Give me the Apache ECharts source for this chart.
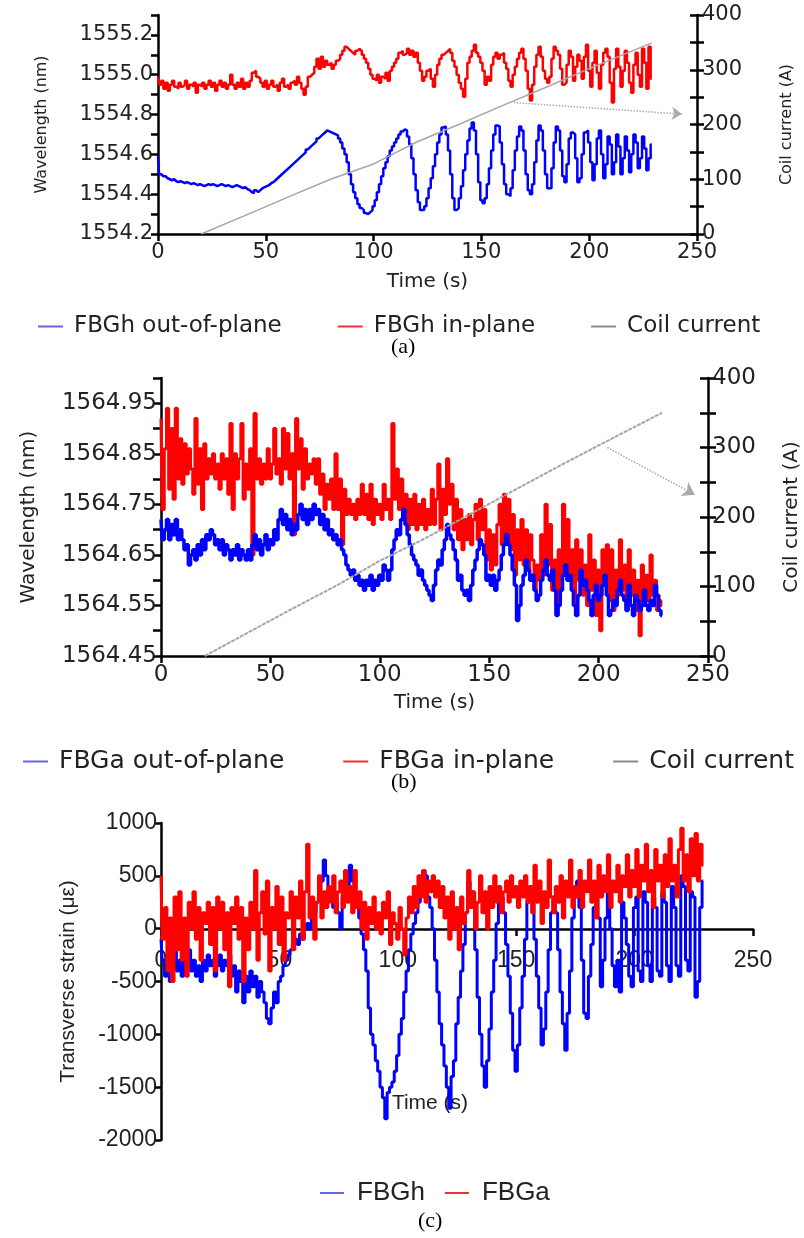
<!DOCTYPE html>
<html><head><meta charset="utf-8">
<script src="https://cdn.jsdelivr.net/npm/echarts@6/dist/echarts.min.js"></script>
<style>html,body{margin:0;padding:0;background:#fff}#c{width:804px;height:1238px}</style>
</head><body><div id="c"></div>
<script>
// ---------- data (time step 1 s, first sample at t = 0) ----------
const sampleStep = 1;
const timeTicks = [0, 50, 100, 150, 200, 250];

// (a) FBGh wavelengths (nm)
const aOutOfPlane = [
 1554.59,1554.50,1554.49,1554.49,1554.48,1554.475,1554.47,1554.475,1554.465,1554.46,
 1554.465,1554.46,1554.455,1554.46,1554.455,1554.45,1554.455,1554.45,1554.445,1554.45,
 1554.445,1554.44,1554.445,1554.45,1554.445,1554.45,1554.445,1554.44,1554.445,1554.45,
 1554.445,1554.44,1554.445,1554.44,1554.435,1554.44,1554.445,1554.44,1554.435,1554.43,
 1554.435,1554.425,1554.42,1554.41,1554.405,1554.42,1554.41,1554.42,1554.43,1554.435,
 1554.44,1554.445,1554.455,1554.46,1554.47,1554.48,1554.49,1554.50,1554.51,1554.52,
 1554.53,1554.54,1554.55,1554.56,1554.57,1554.58,1554.59,1554.60,1554.61,1554.625,
 1554.635,1554.645,1554.655,1554.665,1554.68,1554.69,1554.70,1554.71,1554.72,1554.715,
 1554.71,1554.705,1554.70,1554.695,1554.68,1554.66,1554.63,1554.60,1554.56,1554.50,
 1554.45,1554.41,1554.38,1554.35,1554.33,1554.32,1554.305,1554.30,1554.31,1554.32,
 1554.34,1554.37,1554.41,1554.45,1554.49,1554.53,1554.56,1554.59,1554.62,1554.64,
 1554.66,1554.68,1554.70,1554.715,1554.725,1554.72,1554.69,1554.65,1554.58,1554.50,
 1554.42,1554.36,1554.32,1554.32,1554.34,1554.38,1554.43,1554.48,1554.54,1554.60,
 1554.66,1554.70,1554.735,1554.74,1554.70,1554.62,1554.50,1554.38,1554.32,1554.33,
 1554.38,1554.44,1554.52,1554.60,1554.67,1554.73,1554.76,1554.72,1554.60,1554.46,
 1554.37,1554.355,1554.38,1554.45,1554.53,1554.62,1554.70,1554.745,1554.74,1554.66,
 1554.55,1554.45,1554.40,1554.39,1554.43,1554.52,1554.62,1554.69,1554.74,1554.72,
 1554.62,1554.50,1554.42,1554.40,1554.45,1554.56,1554.67,1554.745,1554.72,1554.62,
 1554.50,1554.43,1554.43,1554.53,1554.66,1554.74,1554.72,1554.62,1554.49,1554.46,
 1554.55,1554.68,1554.71,1554.70,1554.58,1554.46,1554.48,1554.60,1554.71,1554.72,
 1554.66,1554.56,1554.47,1554.55,1554.68,1554.72,1554.60,1554.48,1554.55,1554.69,
 1554.65,1554.50,1554.56,1554.70,1554.64,1554.50,1554.58,1554.69,1554.62,1554.51,
 1554.60,1554.70,1554.66,1554.53,1554.58,1554.69,1554.63,1554.52,1554.58,1554.65];
const aInPlane = [
 1554.99,1554.95,1554.97,1554.93,1554.96,1554.92,1554.95,1554.97,1554.94,1554.93,
 1554.96,1554.94,1554.95,1554.97,1554.93,1554.95,1554.94,1554.96,1554.91,1554.95,
 1554.94,1554.96,1554.93,1554.95,1554.97,1554.94,1554.96,1554.92,1554.95,1554.97,
 1554.94,1554.96,1554.93,1554.95,1555.00,1554.95,1554.93,1554.96,1554.94,1554.98,
 1554.93,1554.96,1554.94,1554.97,1555.01,1555.02,1554.99,1554.98,1554.96,1554.94,
 1554.97,1554.93,1554.95,1554.97,1554.94,1554.95,1554.92,1554.96,1554.98,1554.94,
 1554.95,1554.93,1554.96,1554.97,1554.95,1554.99,1554.96,1554.93,1554.90,1554.94,
 1554.99,1555.00,1555.01,1555.04,1555.08,1555.03,1555.09,1555.04,1555.07,1555.05,
 1555.06,1555.03,1555.05,1555.07,1555.08,1555.10,1555.12,1555.14,1555.13,1555.12,
 1555.11,1555.10,1555.12,1555.13,1555.12,1555.10,1555.08,1555.06,1555.03,1555.00,
 1554.98,1554.97,1555.00,1554.96,1554.99,1554.98,1555.01,1554.97,1555.02,1555.04,
 1555.06,1555.08,1555.11,1555.12,1555.10,1555.11,1555.13,1555.10,1555.12,1555.09,
 1555.11,1555.06,1555.02,1554.97,1554.99,1555.02,1555.03,1554.98,1554.94,1555.00,
 1555.05,1555.08,1555.10,1555.11,1555.12,1555.13,1555.11,1555.07,1555.04,1555.00,
 1554.96,1554.93,1554.89,1554.98,1555.06,1555.09,1555.12,1555.15,1555.11,1555.09,
 1555.06,1555.02,1554.95,1554.99,1554.97,1555.05,1555.09,1555.11,1555.08,1555.10,
 1555.11,1555.06,1555.03,1554.97,1554.94,1555.00,1555.04,1555.08,1555.11,1555.13,
 1555.08,1555.02,1554.93,1554.87,1554.95,1555.04,1555.10,1555.14,1555.09,1555.02,
 1554.98,1554.96,1554.99,1555.08,1555.14,1555.12,1555.10,1555.03,1554.95,1554.96,
 1555.05,1555.12,1555.09,1554.97,1555.04,1555.10,1555.07,1554.98,1555.09,1555.15,
 1555.02,1554.94,1555.06,1555.12,1555.01,1554.93,1555.05,1555.11,1555.13,1555.09,
 1554.96,1554.86,1555.03,1555.13,1555.04,1554.94,1555.02,1555.12,1555.06,1554.96,
 1554.91,1555.05,1555.11,1555.00,1554.94,1555.13,1555.06,1554.93,1555.14,1554.98];

// (b) FBGa wavelengths (nm)
const bOutOfPlane = [
 1564.72,1564.68,1564.70,1564.72,1564.68,1564.71,1564.69,1564.72,1564.68,1564.70,
 1564.68,1564.66,1564.67,1564.63,1564.65,1564.66,1564.64,1564.67,1564.65,1564.68,
 1564.66,1564.69,1564.68,1564.70,1564.69,1564.67,1564.68,1564.66,1564.68,1564.65,
 1564.67,1564.66,1564.64,1564.66,1564.65,1564.67,1564.64,1564.66,1564.65,1564.64,
 1564.66,1564.64,1564.67,1564.69,1564.66,1564.68,1564.65,1564.67,1564.69,1564.66,
 1564.68,1564.67,1564.70,1564.68,1564.72,1564.74,1564.71,1564.73,1564.70,1564.72,
 1564.69,1564.71,1564.70,1564.73,1564.75,1564.72,1564.74,1564.71,1564.74,1564.72,
 1564.75,1564.73,1564.74,1564.71,1564.73,1564.70,1564.72,1564.69,1564.70,1564.68,
 1564.69,1564.67,1564.68,1564.66,1564.65,1564.63,1564.62,1564.61,1564.62,1564.60,
 1564.61,1564.59,1564.60,1564.58,1564.60,1564.59,1564.61,1564.58,1564.60,1564.59,
 1564.61,1564.60,1564.63,1564.62,1564.60,1564.62,1564.66,1564.68,1564.70,1564.69,
 1564.72,1564.74,1564.71,1564.69,1564.67,1564.65,1564.64,1564.63,1564.61,1564.62,
 1564.60,1564.59,1564.58,1564.57,1564.56,1564.59,1564.62,1564.64,1564.63,1564.66,
 1564.68,1564.71,1564.69,1564.68,1564.66,1564.64,1564.60,1564.61,1564.58,1564.57,
 1564.58,1564.56,1564.59,1564.62,1564.64,1564.66,1564.68,1564.67,1564.65,1564.60,
 1564.61,1564.59,1564.61,1564.58,1564.60,1564.62,1564.65,1564.67,1564.69,1564.67,
 1564.65,1564.62,1564.59,1564.52,1564.55,1564.59,1564.61,1564.64,1564.62,1564.60,
 1564.61,1564.58,1564.56,1564.57,1564.60,1564.62,1564.64,1564.61,1564.60,1564.62,
 1564.58,1564.53,1564.55,1564.58,1564.61,1564.63,1564.60,1564.61,1564.58,1564.55,
 1564.53,1564.57,1564.62,1564.59,1564.60,1564.58,1564.56,1564.53,1564.57,1564.59,
 1564.56,1564.57,1564.59,1564.61,1564.57,1564.53,1564.54,1564.56,1564.55,1564.58,
 1564.60,1564.57,1564.56,1564.54,1564.59,1564.55,1564.53,1564.57,1564.56,1564.54,
 1564.55,1564.58,1564.55,1564.54,1564.56,1564.55,1564.59,1564.57,1564.54,1564.53];
const bInPlane = [
 1564.92,1564.74,1564.86,1564.94,1564.78,1564.90,1564.76,1564.94,1564.80,1564.88,
 1564.79,1564.87,1564.81,1564.86,1564.82,1564.77,1564.92,1564.79,1564.86,1564.74,
 1564.87,1564.80,1564.84,1564.81,1564.85,1564.80,1564.83,1564.78,1564.85,1564.80,
 1564.84,1564.77,1564.91,1564.74,1564.85,1564.80,1564.84,1564.91,1564.76,1564.83,
 1564.78,1564.86,1564.65,1564.93,1564.80,1564.84,1564.79,1564.83,1564.80,1564.86,
 1564.80,1564.83,1564.90,1564.81,1564.84,1564.79,1564.90,1564.82,1564.89,1564.80,
 1564.85,1564.69,1564.92,1564.82,1564.88,1564.78,1564.86,1564.80,1564.83,1564.81,
 1564.84,1564.79,1564.84,1564.77,1564.81,1564.74,1564.79,1564.76,1564.80,1564.74,
 1564.85,1564.74,1564.80,1564.67,1564.78,1564.73,1564.76,1564.73,1564.75,1564.72,
 1564.76,1564.73,1564.79,1564.73,1564.77,1564.72,1564.79,1564.71,1564.76,1564.73,
 1564.75,1564.72,1564.79,1564.74,1564.76,1564.72,1564.91,1564.76,1564.82,1564.74,
 1564.80,1564.72,1564.77,1564.70,1564.76,1564.71,1564.77,1564.70,1564.75,1564.71,
 1564.76,1564.70,1564.74,1564.71,1564.78,1564.71,1564.76,1564.83,1564.70,1564.78,
 1564.73,1564.84,1564.75,1564.79,1564.70,1564.76,1564.68,1564.74,1564.66,1564.72,
 1564.68,1564.73,1564.67,1564.72,1564.75,1564.68,1564.76,1564.70,1564.74,1564.64,
 1564.70,1564.62,1564.69,1564.63,1564.71,1564.75,1564.67,1564.77,1564.69,1564.76,
 1564.66,1564.73,1564.61,1564.70,1564.64,1564.72,1564.63,1564.70,1564.62,1564.69,
 1564.64,1564.58,1564.63,1564.60,1564.69,1564.61,1564.75,1564.63,1564.71,1564.58,
 1564.64,1564.55,1564.66,1564.58,1564.75,1564.62,1564.72,1564.60,1564.66,1564.55,
 1564.68,1564.60,1564.66,1564.57,1564.63,1564.55,1564.69,1564.58,1564.64,1564.53,
 1564.62,1564.50,1564.66,1564.59,1564.67,1564.56,1564.66,1564.54,1564.62,1564.57,
 1564.68,1564.58,1564.63,1564.55,1564.66,1564.57,1564.62,1564.54,1564.60,1564.49,
 1564.63,1564.55,1564.61,1564.56,1564.65,1564.57,1564.60,1564.54,1564.56,1564.55];

// (c) transverse strain (microstrain)
const cFBGh = [
 -100,-300,-450,-250,-500,-350,-200,-400,-300,-450,
 -250,-350,-200,-400,-300,-450,-350,-500,-300,-400,
 -250,-350,-300,-450,-350,-250,-400,-300,-350,-250,
 -450,-350,-600,-400,-500,-700,-450,-600,-400,-550,
 -450,-650,-500,-600,-700,-850,-900,-750,-600,-700,
 -500,-450,-350,-300,-250,-200,-150,-100,-150,-50,
 -100,0,50,0,100,150,250,300,450,650,
 500,350,300,200,250,150,0,300,500,400,
 600,450,300,250,100,-50,-200,-400,-750,-1000,
 -1100,-1250,-1350,-1500,-1600,-1800,-1550,-1500,-1450,-1350,
 -1200,-1000,-850,-600,-400,-200,-50,50,150,250,
 400,550,500,300,200,0,-300,-600,-900,-1100,
 -1300,-1500,-1700,-1400,-1250,-900,-650,-400,-150,150,
 450,350,200,-200,-650,-1000,-1300,-1500,-1250,-950,
 -600,-300,50,350,300,150,-150,-450,-800,-1150,
 -1350,-1100,-750,-450,-100,250,400,250,-100,-450,
 -750,-1100,-950,-600,-200,150,300,150,-200,-600,
 -900,-1150,-800,-400,100,300,450,200,-300,-800,
 -850,-450,-150,200,400,100,-550,-300,100,350,
 0,-350,-550,-300,-600,250,100,-150,-450,-550,
 200,300,-400,-500,350,250,-350,-500,300,200,
 -400,-450,350,250,-350,-500,400,200,-350,-450,
 500,400,-300,-400,350,300,-650,-500,200,450];
const cFBGa = [
 500,-100,200,-400,100,-500,300,-200,350,-300,
 100,-450,250,0,350,-100,200,-300,150,50,
 250,-150,200,-400,300,0,250,-200,150,-550,
 200,50,300,-100,200,-500,100,-200,250,0,
 550,-300,150,350,-50,450,-400,200,0,400,
 -150,300,-300,150,100,350,-200,300,100,450,
 -100,350,800,100,300,-100,250,500,100,350,
 200,400,250,500,150,350,450,200,550,250,
 400,150,550,200,350,0,250,-100,200,50,
 300,0,150,-50,250,100,350,-150,150,50,
 -100,200,0,-250,100,300,150,400,200,500,
 300,550,250,450,350,500,300,450,200,400,
 100,300,-100,350,0,200,-200,300,50,150,
 550,200,350,0,250,500,150,350,0,400,
 200,500,250,400,150,350,450,250,500,300,
 400,200,450,300,500,250,400,150,600,250,
 450,50,350,200,650,300,150,400,250,500,
 100,450,300,650,200,400,300,550,200,450,
 350,650,250,450,100,600,300,500,350,700,
 200,450,350,600,250,500,400,700,300,550,
 400,750,300,600,450,800,350,550,200,750,
 450,600,300,700,400,850,450,600,300,750,
 950,450,700,350,850,500,900,450,800,600];

// coil current (A) vs time (s)
const coilTime = [20, 40, 60, 80, 100, 120, 140, 160, 180, 200, 229];
const coilCurrentA = [0, 33, 67, 100, 128, 168, 201, 235, 268, 302, 349];
const coilCurrentB = [0, 34, 68, 101, 137, 168, 202, 236, 270, 303, 350];

// ---------- chart ----------
const toXY = arr => arr.map((v, i) => [i * sampleStep, v]);
const coilXY = arr => arr.map((v, i) => [coilTime[i], v]);

const BLUE = '#0000ff', RED = '#ff0000', GREY = '#a6a6a6';
const AX = {color: '#000', width: 2.5};
const DJ = 'DejaVu Sans', LS = 'Liberation Sans';

// panel (c): y range and plot height, used to put the time axis on the zero line
const cMin = -2000, cMax = 1000, cHeight = 317;
const cZeroOffset = -Math.round((0 - cMin) / (cMax - cMin) * cHeight);

function xAxis(grid, fs, fam, nameGap, extra) {
  return Object.assign({
    gridIndex: grid, type: 'value', min: 0, max: 250, interval: 50,
    axisLine: {lineStyle: AX, onZero: false},
    axisTick: {length: 7, lineStyle: AX},
    axisLabel: {fontSize: fs, fontFamily: fam, color: '#222', margin: 8},
    splitLine: {show: false},
    name: 'Time (s)', nameLocation: 'middle', nameGap: nameGap,
    nameTextStyle: {fontSize: 20, fontFamily: fam, color: '#222'}
  }, extra || {});
}
function stepFmt(min, step, dec) {
  return v => { const k = Math.round((v - min) / step); return k % 2 === 0 ? v.toFixed(dec) : ''; };
}

const option = {
  animation: false,
  backgroundColor: '#fff',
  grid: [
    {left: 158, top: 15, width: 539, height: 219, outerBoundsMode: 'none', containLabel: false},
    {left: 161, top: 378, width: 547, height: 278, outerBoundsMode: 'none', containLabel: false},
    {left: 161, top: 823, width: 592, height: cHeight, outerBoundsMode: 'none', containLabel: false}
  ],
  xAxis: [
    xAxis(0, 21, DJ, 38),
    xAxis(1, 23, DJ, 37),
    xAxis(2, 23, LS, 164, {
      offset: cZeroOffset,
      axisLine: {lineStyle: AX, onZero: false},
      axisLabel: {fontSize: 23, fontFamily: LS, color: '#222', margin: 20},
      nameTextStyle: {fontSize: 21, fontFamily: LS, color: '#222', padding: [0, 54, 0, 0]}
    })
  ],
  yAxis: [
    { // 0: (a) left
      gridIndex: 0, type: 'value', min: 1554.2, max: 1555.3, interval: 0.1,
      axisLine: {lineStyle: AX}, axisTick: {length: 7, lineStyle: AX},
      axisLabel: {fontSize: 21, fontFamily: DJ, color: '#222', margin: 5,
        formatter: v => (v > 1555.25 ? '' : stepFmt(1554.2, 0.1, 1)(v))},
      splitLine: {show: false},
      name: 'Wavelength (nm)', nameLocation: 'middle', nameRotate: 90, nameGap: 108,
      nameTextStyle: {fontSize: 16, fontFamily: DJ, color: '#222'}
    },
    { // 1: (a) right
      gridIndex: 0, type: 'value', position: 'right', min: 0, max: 400, interval: 50,
      axisLine: {lineStyle: AX}, axisTick: {length: 7, lineStyle: AX},
      axisLabel: {fontSize: 21, fontFamily: DJ, color: '#222', margin: 5,
        formatter: v => (v % 100 === 0 ? String(v) : '')},
      splitLine: {show: false},
      name: 'Coil current (A)', nameLocation: 'middle', nameRotate: 90, nameGap: 82,
      nameTextStyle: {fontSize: 16, fontFamily: DJ, color: '#222'}
    },
    { // 2: (a) right inner ticks
      gridIndex: 0, type: 'value', position: 'right', min: 0, max: 400, interval: 50,
      axisLine: {show: false}, axisTick: {inside: true, length: 7, lineStyle: AX},
      axisLabel: {show: false}, splitLine: {show: false}
    },
    { // 3: (b) left
      gridIndex: 1, type: 'value', min: 1564.45, max: 1565.0, interval: 0.05,
      axisLine: {lineStyle: AX}, axisTick: {length: 8, lineStyle: AX},
      axisLabel: {fontSize: 23, fontFamily: DJ, color: '#222', margin: 4,
        formatter: stepFmt(1564.45, 0.05, 2)},
      splitLine: {show: false},
      name: 'Wavelength (nm)', nameLocation: 'middle', nameRotate: 90, nameGap: 122,
      nameTextStyle: {fontSize: 20, fontFamily: DJ, color: '#222'}
    },
    { // 4: (b) right
      gridIndex: 1, type: 'value', position: 'right', min: 0, max: 400, interval: 50,
      axisLine: {lineStyle: AX}, axisTick: {length: 8, lineStyle: AX},
      axisLabel: {fontSize: 23, fontFamily: DJ, color: '#222', margin: 4,
        formatter: v => (v % 100 === 0 ? String(v) : '')},
      splitLine: {show: false},
      name: 'Coil current (A)', nameLocation: 'middle', nameRotate: 90, nameGap: 74,
      nameTextStyle: {fontSize: 20, fontFamily: DJ, color: '#222'}
    },
    { // 5: (b) right inner ticks
      gridIndex: 1, type: 'value', position: 'right', min: 0, max: 400, interval: 50,
      axisLine: {show: false}, axisTick: {inside: true, length: 8, lineStyle: AX},
      axisLabel: {show: false}, splitLine: {show: false}
    },
    { // 6: (c)
      gridIndex: 2, type: 'value', min: cMin, max: cMax, interval: 500,
      axisLine: {lineStyle: AX}, axisTick: {length: 6, lineStyle: AX},
      axisLabel: {fontSize: 23, fontFamily: LS, color: '#222', margin: 4, formatter: v => String(v)},
      splitLine: {show: false},
      name: 'Transverse strain (\u03bc\u03b5)', nameLocation: 'middle', nameRotate: 90, nameGap: 82,
      nameTextStyle: {fontSize: 21, fontFamily: LS, color: '#222'}
    }
  ],
  legend: [
    {
      left: 33, top: 310, icon: 'rect', itemWidth: 25, itemHeight: 2, itemGap: 56,
      textStyle: {fontSize: 23, fontFamily: DJ, color: '#222', padding: [0, 0, 0, 6]},
      data: [
        {name: 'FBGh out-of-plane', itemStyle: {color: '#6464e6'}},
        {name: 'FBGh in-plane', itemStyle: {color: '#f03030'}},
        {name: 'Coil current', itemStyle: {color: '#888'}}
      ]
    },
    {
      left: 18, top: 744, icon: 'rect', itemWidth: 25, itemHeight: 2, itemGap: 59,
      textStyle: {fontSize: 25, fontFamily: DJ, color: '#222', padding: [0, 0, 0, 6]},
      data: [
        {name: 'FBGa out-of-plane', itemStyle: {color: '#6464e6'}},
        {name: 'FBGa in-plane', itemStyle: {color: '#f03030'}},
        {name: 'Coil current', itemStyle: {color: '#888'}}
      ]
    },
    {
      left: 315, top: 1175, icon: 'rect', itemWidth: 24, itemHeight: 2, itemGap: 20,
      textStyle: {fontSize: 26, fontFamily: LS, color: '#222', padding: [0, 0, 0, 8]},
      data: [
        {name: 'FBGh', itemStyle: {color: '#6464e6'}},
        {name: 'FBGa', itemStyle: {color: '#f03030'}}
      ]
    }
  ],
  graphic: [
    {type: 'text', left: 391, top: 336, style: {text: '(a)', font: '22px "Liberation Serif"', fill: '#000'}},
    {type: 'text', left: 391, top: 771, style: {text: '(b)', font: '22px "Liberation Serif"', fill: '#000'}},
    {type: 'text', left: 418, top: 1210, style: {text: '(c)', font: '22px "Liberation Serif"', fill: '#000'}}
  ],
  series: [
    {name: 'FBGh out-of-plane', type: 'line', xAxisIndex: 0, yAxisIndex: 0, step: 'middle', showSymbol: false,
      lineStyle: {color: BLUE, width: 2.5}, itemStyle: {color: BLUE}, data: toXY(aOutOfPlane)},
    {name: 'FBGh in-plane', type: 'line', xAxisIndex: 0, yAxisIndex: 0, step: 'middle', showSymbol: false,
      lineStyle: {color: RED, width: 2.5}, itemStyle: {color: RED}, data: toXY(aInPlane)},
    {name: 'Coil current', type: 'line', xAxisIndex: 0, yAxisIndex: 1, showSymbol: false,
      lineStyle: {color: GREY, width: 1.5}, itemStyle: {color: GREY}, data: coilXY(coilCurrentA),
      markLine: {silent: true, symbol: ['none', 'arrow'], symbolSize: 10, label: {show: false},
        lineStyle: {color: '#aaa', type: 'dotted', width: 1.5},
        data: [[{coord: [165, 240]}, {coord: [243, 219]}]]}},
    {name: 'FBGa in-plane', type: 'line', xAxisIndex: 1, yAxisIndex: 3, step: 'middle', showSymbol: false,
      lineStyle: {color: RED, width: 3}, itemStyle: {color: RED}, data: toXY(bInPlane)},
    {name: 'FBGa out-of-plane', type: 'line', xAxisIndex: 1, yAxisIndex: 3, step: 'middle', showSymbol: false,
      lineStyle: {color: BLUE, width: 3.5}, itemStyle: {color: BLUE}, data: toXY(bOutOfPlane)},
    {name: 'Coil current', type: 'line', xAxisIndex: 1, yAxisIndex: 4, showSymbol: false,
      lineStyle: {color: GREY, width: 2, type: [4, 1]}, itemStyle: {color: GREY}, data: coilXY(coilCurrentB),
      markLine: {silent: true, symbol: ['none', 'arrow'], symbolSize: 12, label: {show: false},
        lineStyle: {color: '#aaa', type: 'dotted', width: 1.5},
        data: [[{coord: [204, 300]}, {coord: [244, 232]}]]}},
    {name: 'FBGh', type: 'line', xAxisIndex: 2, yAxisIndex: 6, step: 'middle', showSymbol: false,
      lineStyle: {color: BLUE, width: 3}, itemStyle: {color: BLUE}, data: toXY(cFBGh)},
    {name: 'FBGa', type: 'line', xAxisIndex: 2, yAxisIndex: 6, step: 'middle', showSymbol: false,
      lineStyle: {color: RED, width: 3}, itemStyle: {color: RED}, data: toXY(cFBGa)}
  ]
};

const chart = echarts.init(document.getElementById('c'), null, {renderer: 'canvas'});
chart.setOption(option);
</script>
</body></html>
